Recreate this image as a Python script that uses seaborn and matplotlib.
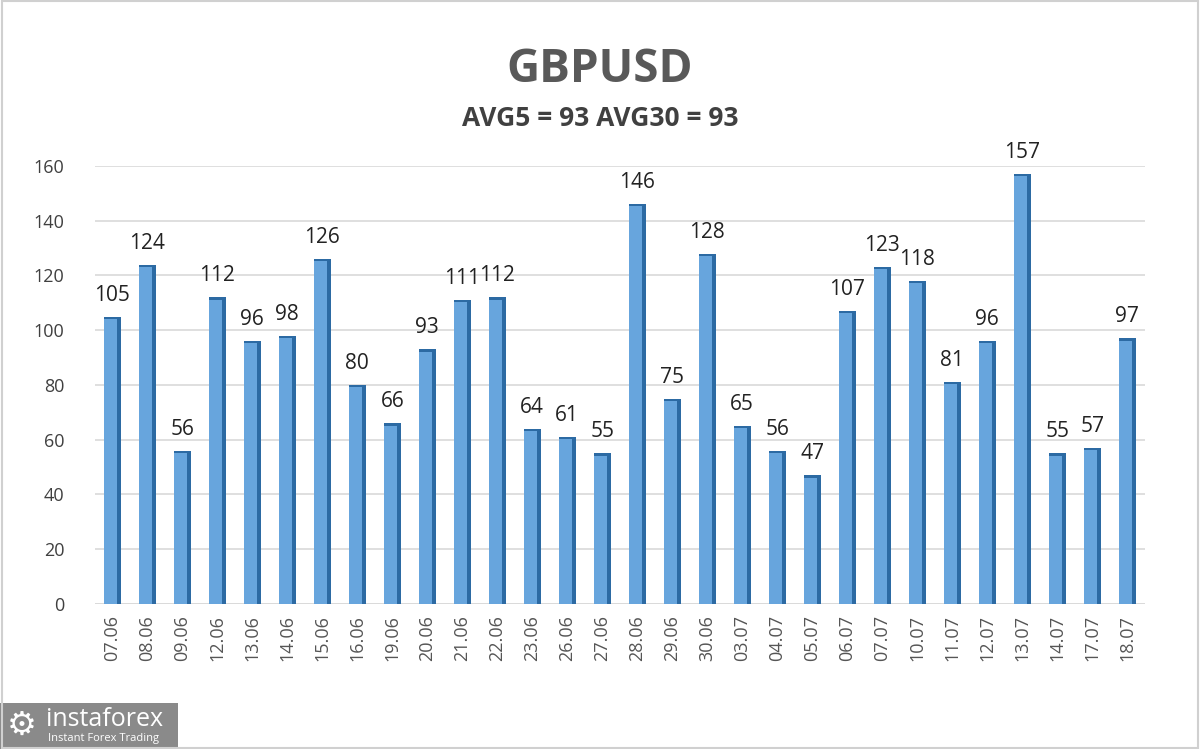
import pandas as pd
import numpy as np
import matplotlib.pyplot as plt
import seaborn as sns
from matplotlib.patches import Rectangle

# data
dates = ['07.06', '08.06', '09.06', '12.06', '13.06', '14.06', '15.06', '16.06', '19.06', '20.06',
         '21.06', '22.06', '23.06', '26.06', '27.06', '28.06', '29.06', '30.06', '03.07', '04.07',
         '05.07', '06.07', '07.07', '10.07', '11.07', '12.07', '13.07', '14.07', '17.07', '18.07']
values = [105, 124, 56, 112, 96, 98, 126, 80, 66, 93,
          111, 112, 64, 61, 55, 146, 75, 128, 65, 56,
          47, 107, 123, 118, 81, 96, 157, 55, 57, 97]
title = 'GBPUSD'
subtitle = 'AVG5 = 93 AVG30 = 93'

df = pd.DataFrame({'date': dates, 'value': values})

sns.set_style('white')
plt.rcParams['font.family'] = ['Open Sans', 'DejaVu Sans']

fig = plt.figure(figsize=(12, 7.49), dpi=100)
ax = fig.add_axes([0.079, 0.1936, 0.875, 0.5848])

# 3D-ish look: dark shadow bar behind, lighter bar in front
sns.barplot(data=df, x='date', y='value', color='#2c6aa3', width=0.48, ax=ax,
            saturation=1, zorder=2, linewidth=0)
sns.barplot(data=df, x='date', y='value', color='#67a5dd', width=0.38, ax=ax,
            saturation=1, zorder=3, linewidth=0)
# shift the front bars slightly left so a dark side shows on the right
for p in ax.patches[len(dates):]:
    p.set_x(p.get_x() - 0.05)
    p.set_height(p.get_height() - 0.8)

ax.set_ylim(0, 160)
ax.set_xlim(-0.5, len(dates) - 0.5)
ax.set_yticks(range(0, 161, 20))
ax.yaxis.grid(True, color='#d9d9d9', linewidth=1.2, zorder=0)
ax.set_axisbelow(True)
for s in ax.spines.values():
    s.set_visible(False)
ax.axhline(0, color='#d9d9d9', linewidth=1.2, zorder=1)

ax.set_xlabel('')
ax.set_ylabel('')
ax.tick_params(axis='y', labelsize=13, colors='#404040', pad=22, length=0)
ax.tick_params(axis='x', labelsize=13, colors='#555555', rotation=90, pad=8, length=0)

for i, v in enumerate(values):
    ax.text(i, v + 4, str(v), ha='center', va='bottom', fontsize=15, color='#222222')

fig.text(0.5, 0.907, title, ha='center', va='center', fontsize=33, fontweight='bold', color='#595959')
fig.text(0.5, 0.842, subtitle, ha='center', va='center', fontsize=19, fontweight='bold', color='#404040')

# logo box
fig.patches.append(Rectangle((0, 0), 178 / 1200, 46 / 749, transform=fig.transFigure,
                             facecolor='#8a8a8a', edgecolor='none'))
fig.text(46 / 1200, 29 / 749, 'instaforex', ha='left', va='center', fontsize=18, color='white')
fig.text(48 / 1200, 10 / 749, 'Instant Forex Trading', ha='left', va='center', fontsize=8, color='white')
fig.text(22 / 1200, 24 / 749, '⚙', ha='center', va='center', fontsize=24, color='white',
         family=['DejaVu Sans'])

# outer frame
fig.patches.append(Rectangle((0.002, 0.002), 0.996, 0.996, transform=fig.transFigure,
                             facecolor='none', edgecolor='#d0d0d0', linewidth=1.5))

fig.savefig('out.png', dpi=100)
